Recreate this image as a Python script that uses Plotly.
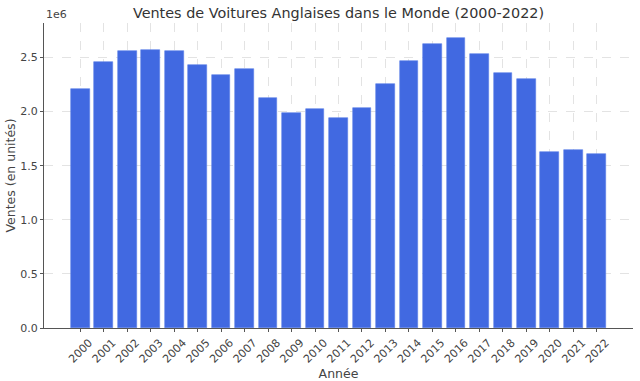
import plotly.graph_objects as go

years = [str(y) for y in range(2000, 2023)]
sales = [2213000, 2454000, 2558000, 2571000, 2562000, 2435000, 2340000, 2398000,
         2123000, 1991000, 2025000, 1938000, 2037000, 2259000, 2469000, 2627000,
         2685000, 2534000, 2361000, 2303000, 1627000, 1642000, 1607000]
ytick_vals = [0, 500000, 1000000, 1500000, 2000000, 2500000]
ytick_text = ["0.0", "0.5", "1.0", "1.5", "2.0", "2.5"]

FONT = "DejaVu Sans"
fig = go.Figure()
fig.add_trace(go.Bar(
    x=list(range(len(years))), y=sales, width=0.8,
    marker=dict(color="#4169E1", line=dict(color="#5a7fe8", width=0.6)),
))
fig.update_layout(
    width=640, height=381,
    margin=dict(l=44, r=7, t=23, b=53, autoexpand=False),
    paper_bgcolor="white", plot_bgcolor="white",
    font=dict(family=FONT, size=11, color="#444"),
    title=dict(text="Ventes de Voitures Anglaises dans le Monde (2000-2022)",
               x=338.5 / 640, xanchor="center", y=1 - 13 / 381, yanchor="middle",
               font=dict(size=14.4, color="#333")),
    showlegend=False,
    bargap=0,
)
fig.update_xaxes(
    range=[-1.54, 23.54], tickmode="array", automargin=False,
    tickvals=list(range(len(years))), ticktext=years, tickangle=-45,
    ticklabelshift=9, ticklabelstandoff=0,
    showline=True, linecolor="#555", linewidth=1,
    showgrid=True, gridcolor="#e3e3e3", griddash="dash", gridwidth=0.8,
    ticks="outside", ticklen=3, tickcolor="#555",
    title=dict(text="Année", font=dict(size=12.5, color="#444"), standoff=3),
    zeroline=False,
)
fig.update_yaxes(
    range=[0, 2819000], tickmode="array", automargin=False,
    tickvals=ytick_vals, ticktext=ytick_text,
    showline=True, linecolor="#555", linewidth=1,
    showgrid=True, gridcolor="#e3e3e3", griddash="dash", gridwidth=0.8,
    ticks="outside", ticklen=3, tickcolor="#555",
    title=dict(text="Ventes (en unités)", font=dict(size=12.5, color="#444"), standoff=1),
    zeroline=False,
)
fig.add_annotation(text="1e6", xref="paper", yref="paper", x=0, y=1.0,
                   xanchor="left", yanchor="bottom", showarrow=False,
                   font=dict(size=11, color="#444"), yshift=0)
fig.write_html("out.html", config={"displayModeBar": False},
               post_script="document.body.style.margin='0';")
